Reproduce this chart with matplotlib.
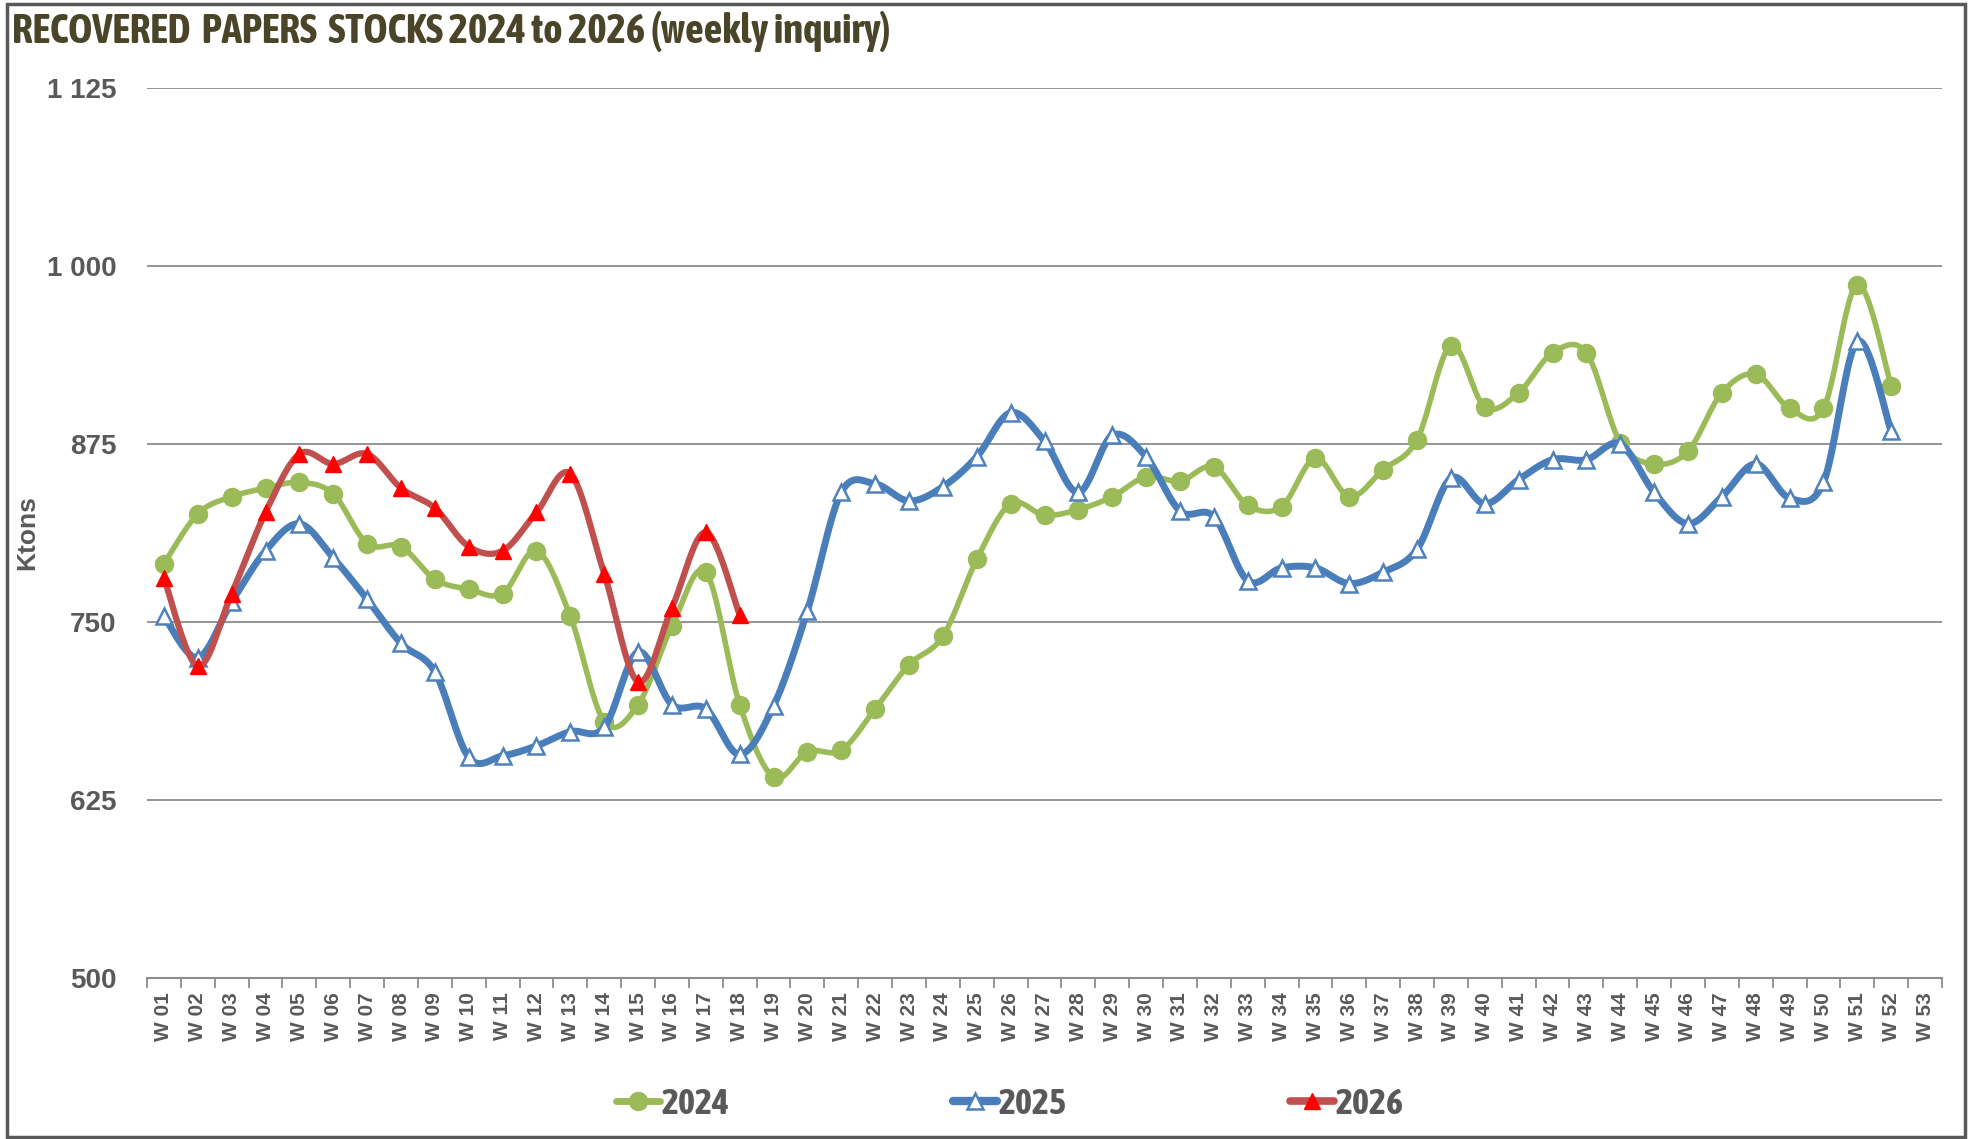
import numpy as np
import matplotlib
matplotlib.use("Agg")
import matplotlib.pyplot as plt
from matplotlib import font_manager
from matplotlib.font_manager import FontProperties
from matplotlib.lines import Line2D
from matplotlib.patches import Rectangle

# ---------------- data ----------------
weeks = [f"W {i:02d}" for i in range(1, 54)]

stocks_2024 = [791, 826, 838, 844, 848, 840, 805, 803, 780, 773, 770, 800, 754, 680, 692, 747,
               785, 692, 641, 659, 660, 689, 720, 740, 794, 833, 825, 829, 838, 852, 849, 859,
               832, 831, 865, 838, 857, 878, 944, 901, 911, 939, 939, 876, 861, 870, 911, 924,
               900, 900, 987, 916]
stocks_2025 = [754, 725, 764, 800, 819, 795, 766, 735, 715, 655, 656, 663, 673, 676, 729, 692,
               689, 657, 691, 758, 841, 847, 835, 845, 866, 897, 877, 841, 881, 866, 828, 824,
               779, 788, 788, 777, 785, 801, 851, 833, 850, 864, 864, 875, 841, 819, 838, 861,
               837, 848, 947, 884]
stocks_2026 = [781, 719, 770, 827, 868, 861, 868, 844, 830, 803, 800, 827, 854, 784, 708, 760,
               813, 755]

y_ticks = [500, 625, 750, 875, 1000, 1125]
y_tick_labels = ["500", "625", "750", "875", "1 000", "1 125"]
series_names = ["2024", "2025", "2026"]

# ---------------- fonts ----------------
wide = "Liberation Sans"
cond_file = None
for f in font_manager.fontManager.ttflist:
    nm = (f.name + " " + str(f.fname)).lower()
    is_cond = ("narrow" in nm or "condensed" in nm or str(f.stretch) in
               ("condensed", "semi-condensed", "extra-condensed", "ultra-condensed")
               or (isinstance(f.stretch, int) and f.stretch < 500))
    if is_cond and f.weight in ("bold", 700, "semibold", 600):
        if cond_file is None or "dejavu" in str(cond_file).lower():
            cond_file = f.fname
if cond_file is not None:
    def narrow_fp(size):
        return FontProperties(fname=cond_file, size=size)
    title_size, legend_size = 29.5, 26
else:
    def narrow_fp(size):
        return FontProperties(family=wide, weight="bold", size=size)
    title_size, legend_size = 21, 20

GRAY = "#595959"


def smooth(xs, ys, n=24):
    """Catmull-Rom (Excel-like smoothed line) through the given points."""
    xs = np.asarray(xs, float)
    ys = np.asarray(ys, float)
    P = np.column_stack([xs, ys])
    P = np.vstack([P[0], P, P[-1]])
    out = []
    t = np.linspace(0, 1, n, endpoint=False)[:, None]
    for i in range(1, len(P) - 2):
        p0, p1, p2, p3 = P[i - 1], P[i], P[i + 1], P[i + 2]
        b1 = p1 + (p2 - p0) / 6.0
        b2 = p2 - (p3 - p1) / 6.0
        seg = ((1 - t) ** 3) * p1 + 3 * ((1 - t) ** 2) * t * b1 + 3 * (1 - t) * t ** 2 * b2 + t ** 3 * p2
        out.append(seg)
    out.append(P[-2][None, :])
    out = np.vstack(out)
    return out[:, 0], out[:, 1]


W, H = 1972, 1139
fig = plt.figure(figsize=(W / 100, H / 100), dpi=100)
fig.patch.set_facecolor("white")

ax = fig.add_axes([147 / W, 1 - 978 / H, (1942 - 147) / W, (978 - 88) / H])

for v in y_ticks[1:]:
    ax.axhline(v, color="#8c8c8c", lw=1.3, zorder=1)

styles = [
    dict(data=stocks_2024, color="#9BBB59", lw=4.0, marker="o", ms=13, mfc="#9BBB59", mec="#9BBB59", mew=1),
    dict(data=stocks_2025, color="#4A7EBB", lw=5.0, marker="^", ms=11.5, mfc="white", mec="#4F81BD", mew=1.8),
    dict(data=stocks_2026, color="#C0504D", lw=4.5, marker="^", ms=11, mfc="#FF0000", mec="#FF0000", mew=1),
]
handles = []
for z, st in enumerate(styles):
    vals = st["data"]
    xs = np.arange(1, len(vals) + 1)
    sx, sy = smooth(xs, vals)
    ax.plot(sx, sy, color=st["color"], lw=st["lw"], solid_capstyle="round", zorder=3 + 2 * z)
    ax.plot(xs, vals, ls="none", marker=st["marker"], ms=st["ms"], mfc=st["mfc"], mec=st["mec"],
            mew=st["mew"], zorder=4 + 2 * z)
    handles.append(Line2D([], [], color=st["color"], lw=st["lw"] + 1, marker=st["marker"], ms=st["ms"],
                          mfc=st["mfc"], mec=st["mec"], mew=st["mew"], solid_capstyle="round"))

ax.set_xlim(0.5, 53.5)
ax.set_ylim(500, 1125)
for s in ["top", "right", "left"]:
    ax.spines[s].set_visible(False)
ax.spines["bottom"].set_color("#8c8c8c")
ax.spines["bottom"].set_linewidth(1.5)

ax.set_yticks(y_ticks)
ax.set_yticklabels(y_tick_labels, fontfamily=wide, fontweight="bold", fontsize=20, color=GRAY)
ax.tick_params(axis="y", length=0, pad=22)

ax.set_xticks(np.arange(1, 54))
ax.set_xticklabels(weeks, rotation=90, fontfamily=wide, fontweight="bold", fontsize=15, color=GRAY)
ax.set_xticks(np.arange(0.5, 54, 1), minor=True)
ax.tick_params(axis="x", which="major", length=0, pad=10)
ax.tick_params(axis="x", which="minor", length=7, width=1.3, color="#8c8c8c", direction="out")

ax.set_ylabel("Ktons", fontfamily=wide, fontweight="bold", fontsize=19, color=GRAY, labelpad=0)
ax.yaxis.set_label_coords(-0.060, 0.5)

fig.text(12 / W, 1 - 31 / H, "RECOVERED  PAPERS  STOCKS 2024 to 2026 (weekly inquiry)",
         fontproperties=narrow_fp(title_size), color="#4A4429", ha="left", va="center")

leg = fig.legend(handles, series_names, loc="center", bbox_to_anchor=(1010 / W, 1 - 1104 / H), ncol=3,
                 frameon=False, handlelength=1.2, handletextpad=0.05, columnspacing=6.2,
                 prop=narrow_fp(legend_size))
for t in leg.get_texts():
    t.set_color(GRAY)

fig.add_artist(Rectangle((7 / W, 2 / H), (1965 - 7) / W, (1135 - 2) / H, transform=fig.transFigure,
                         fill=False, edgecolor="#595959", lw=2.5))

fig.savefig("out.png", dpi=100)
